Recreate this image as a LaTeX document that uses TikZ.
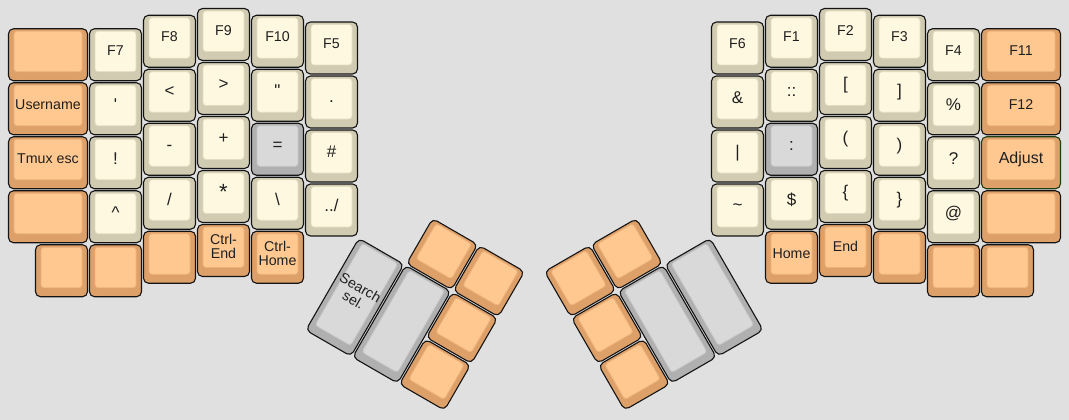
\documentclass[tikz,border=0pt]{standalone}
\usepackage{fontspec}
\setmainfont{Liberation Sans}[Ligatures=TeXOff]
\definecolor{bgcol}{HTML}{E0E0E0}
\definecolor{keyborder}{HTML}{141414}
\definecolor{adjgreen}{HTML}{1E3F14}
\definecolor{creamside}{HTML}{D0CBB1}
\definecolor{creamface}{HTML}{FFF8E0}
\definecolor{creamedge}{HTML}{E3DCC2}
\definecolor{orangeside}{HTML}{DEA069}
\definecolor{orangeface}{HTML}{FFC891}
\definecolor{orangeedge}{HTML}{EDB27C}
\definecolor{grayside}{HTML}{B0B0B0}
\definecolor{grayface}{HTML}{D9D9D9}
\definecolor{grayedge}{HTML}{C6C6C6}
\newcommand{\kstrut}{\rule[-2pt]{0pt}{12pt}}
\newcommand{\fs}[1]{\fontsize{#1}{14}\selectfont}
\newcommand{\sym}[1]{{\fs{17}#1}}
\tikzset{
  keyside/.style={draw=keyborder, line width=1.1pt, rounded corners=5pt},
  keyface/.style={line width=0.8pt, rounded corners=3pt},
  keylabel/.style={inner sep=0pt, align=center, text=black!88,
    font=\fontsize{14.2}{14}\selectfont},
}
% #1 extra options, #2 X, #3 Y, #4 W, #5 H, #6 colour set, #7 label
\newcommand{\kcap}[7][]{%
  \path[keyside, fill=#6side, #1] ({#2+1},{#3+1}) rectangle ({#2+#4-1},{#3+#5-1});
  \path[keyface, fill=#6face, draw=#6edge] ({#2+6.5},{#3+3.5}) rectangle ({#2+#4-6.5},{#3+#5-10});
  \node[keylabel] at ({#2+#4/2},{#3+#5/2-3.25}) {\kstrut #7};
}
\begin{document}
\begin{tikzpicture}[x=1pt,y=-1pt]
\fill[bgcol] (0,0) rectangle (1069,420);
\useasboundingbox (0,0) rectangle (1069,420);
% ---------- left hand ----------
\kcap{7.5}{27.75}{81}{54}{orange}{}
\kcap{7.5}{81.75}{81}{54}{orange}{Username}
\kcap{7.5}{135.75}{81}{54}{orange}{Tmux esc}
\kcap{7.5}{189.75}{81}{54}{orange}{}
\kcap{34.5}{243.75}{54}{54}{orange}{}
\kcap{88.5}{27.75}{54}{54}{cream}{F7}
\kcap{88.5}{81.75}{54}{54}{cream}{\sym{\textquotesingle}}
\kcap{88.5}{135.75}{54}{54}{cream}{\sym{!}}
\kcap{88.5}{189.75}{54}{54}{cream}{\sym{\textasciicircum}}
\kcap{88.5}{243.75}{54}{54}{orange}{}
\kcap{142.5}{14.25}{54}{54}{cream}{F8}
\kcap{142.5}{68.25}{54}{54}{cream}{\sym{<}}
\kcap{142.5}{122.25}{54}{54}{cream}{\sym{-}}
\kcap{142.5}{176.25}{54}{54}{cream}{\sym{/}}
\kcap{142.5}{230.25}{54}{54}{orange}{}
\kcap{196.5}{7.5}{54}{54}{cream}{F9}
\kcap{196.5}{61.5}{54}{54}{cream}{\sym{>}}
\kcap{196.5}{115.5}{54}{54}{cream}{\sym{+}}
\kcap{196.5}{169.5}{54}{54}{cream}{{\fs{22}*}}
\kcap{196.5}{223.5}{54}{54}{orange}{Ctrl-\\\kstrut End}
\kcap{250.5}{14.25}{54}{54}{cream}{F10}
\kcap{250.5}{68.25}{54}{54}{cream}{\sym{\textquotedbl}}
\kcap{250.5}{122.25}{54}{54}{gray}{\sym{=}}
\kcap{250.5}{176.25}{54}{54}{cream}{\sym{\textbackslash}}
\kcap{250.5}{230.25}{54}{54}{orange}{Ctrl-\\\kstrut Home}
\kcap{304.5}{21}{54}{54}{cream}{F5}
\kcap{304.5}{75}{54}{54}{cream}{\sym{.}}
\kcap{304.5}{129}{54}{54}{cream}{\sym{\#}}
\kcap{304.5}{183}{54}{54}{cream}{\sym{../}}
% left thumb cluster
\begin{scope}[shift={(358.5,237)}, rotate=-30, transform shape]
\kcap{54}{-54}{54}{54}{orange}{}
\kcap{108}{-54}{54}{54}{orange}{}
\kcap{108}{0}{54}{54}{orange}{}
\kcap{108}{54}{54}{54}{orange}{}
\kcap{0}{0}{54}{108}{gray}{Search\\\kstrut sel.}
\kcap{54}{0}{54}{108}{gray}{}
\end{scope}
% ---------- right hand ----------
\kcap{710.5}{21}{54}{54}{cream}{F6}
\kcap{710.5}{75}{54}{54}{cream}{\sym{\&}}
\kcap{710.5}{129}{54}{54}{cream}{\sym{|}}
\kcap{710.5}{183}{54}{54}{cream}{\sym{\textasciitilde}}
\kcap{764.5}{14.25}{54}{54}{cream}{F1}
\kcap{764.5}{68.25}{54}{54}{cream}{\sym{::}}
\kcap{764.5}{122.25}{54}{54}{gray}{\sym{:}}
\kcap{764.5}{176.25}{54}{54}{cream}{\sym{\$}}
\kcap{764.5}{230.25}{54}{54}{orange}{Home}
\kcap{818.5}{7.5}{54}{54}{cream}{F2}
\kcap{818.5}{61.5}{54}{54}{cream}{\sym{[}}
\kcap{818.5}{115.5}{54}{54}{cream}{\sym{(}}
\kcap{818.5}{169.5}{54}{54}{cream}{\sym{\{}}
\kcap{818.5}{223.5}{54}{54}{orange}{End}
\kcap{872.5}{14.25}{54}{54}{cream}{F3}
\kcap{872.5}{68.25}{54}{54}{cream}{\sym{]}}
\kcap{872.5}{122.25}{54}{54}{cream}{\sym{)}}
\kcap{872.5}{176.25}{54}{54}{cream}{\sym{\}}}
\kcap{872.5}{230.25}{54}{54}{orange}{}
\kcap{926.5}{27.75}{54}{54}{cream}{F4}
\kcap{926.5}{81.75}{54}{54}{cream}{\sym{\%}}
\kcap{926.5}{135.75}{54}{54}{cream}{\sym{?}}
\kcap{926.5}{189.75}{54}{54}{cream}{\sym{@}}
\kcap{926.5}{243.75}{54}{54}{orange}{}
\kcap{980.5}{27.75}{81}{54}{orange}{F11}
\kcap{980.5}{81.75}{81}{54}{orange}{F12}
\kcap[draw=adjgreen]{980.5}{135.75}{81}{54}{orange}{{\fs{16}Adjust}}
\kcap{980.5}{189.75}{81}{54}{orange}{}
\kcap{980.5}{243.75}{54}{54}{orange}{}
% right thumb cluster
\begin{scope}[shift={(710.5,237)}, rotate=30, transform shape]
\kcap{-108}{-54}{54}{54}{orange}{}
\kcap{-162}{-54}{54}{54}{orange}{}
\kcap{-162}{0}{54}{54}{orange}{}
\kcap{-162}{54}{54}{54}{orange}{}
\kcap{-54}{0}{54}{108}{gray}{}
\kcap{-108}{0}{54}{108}{gray}{}
\end{scope}
\end{tikzpicture}
\end{document}
